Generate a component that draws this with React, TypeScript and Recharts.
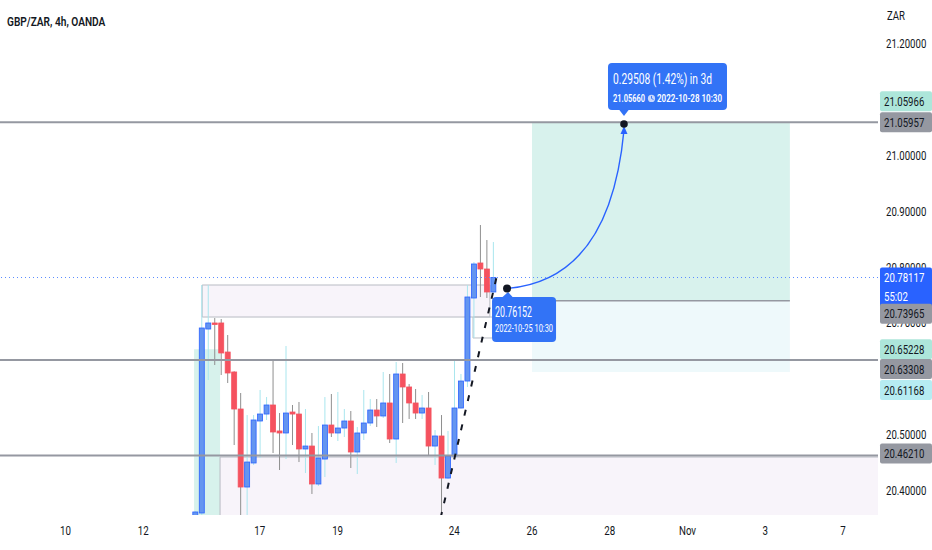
import React from 'react';
import { ComposedChart, Bar, XAxis, YAxis, ReferenceLine, ReferenceArea, ReferenceDot } from 'recharts';

// GBP/ZAR 4h candles, 13 Oct – 25 Oct 2022
const opens = [
  20.34, 20.3588, 20.6888, 20.6996, 20.6996, 20.6475, 20.6117, 20.5453, 20.4054, 20.4485,
  20.5238, 20.5363, 20.5525, 20.5059, 20.5023, 20.5399, 20.5363, 20.4736, 20.4789, 20.4108,
  20.4556, 20.5166, 20.5023, 20.5112, 20.5238, 20.4682, 20.5023, 20.5202, 20.5435, 20.5328,
  20.5561, 20.4915, 20.6081, 20.5848, 20.5561, 20.5381, 20.5471, 20.4789, 20.4969, 20.4215,
  20.461, 20.5471, 20.5955, 20.7444, 20.8072, 20.7964, 20.7552,
];
const highs = [
  20.362, 20.7677, 20.7677, 20.7085, 20.7067, 20.678, 20.613, 20.574, 20.5345, 20.5345,
  20.5794, 20.5668, 20.6332, 20.5381, 20.6583, 20.5525, 20.5579, 20.5453, 20.5023, 20.5148,
  20.5668, 20.5722, 20.5758, 20.5453, 20.5417, 20.513, 20.5794, 20.5632, 20.5632, 20.6117,
  20.6081, 20.6296, 20.6278, 20.5901, 20.5812, 20.5704, 20.5758, 20.5076, 20.5345, 20.5059,
  20.6332, 20.6081, 20.7677, 20.809, 20.8753, 20.8484, 20.8448,
];
const lows = [
  20.33, 20.35, 20.5973, 20.6242, 20.6063, 20.5919, 20.4807, 20.35, 20.35, 20.4449,
  20.4574, 20.5256, 20.4664, 20.4359, 20.4556, 20.4807, 20.4502, 20.4305, 20.3929, 20.4072,
  20.4233, 20.4951, 20.4879, 20.4951, 20.4395, 20.4287, 20.4897, 20.5148, 20.513, 20.5292,
  20.4843, 20.4485, 20.5202, 20.5274, 20.5274, 20.5274, 20.4628, 20.4449, 20.35, 20.42,
  20.46, 20.546, 20.5848, 20.6727, 20.7462, 20.7444, 20.753,
];
const closes = [
  20.3606, 20.6906, 20.6996, 20.6978, 20.6458, 20.6099, 20.5453, 20.4054, 20.4502, 20.5256,
  20.5363, 20.5525, 20.5041, 20.5023, 20.5381, 20.5363, 20.4736, 20.4789, 20.4108, 20.4574,
  20.5166, 20.5023, 20.5112, 20.5238, 20.4682, 20.5023, 20.5202, 20.5435, 20.5328, 20.5561,
  20.4915, 20.6081, 20.5848, 20.5561, 20.5381, 20.5471, 20.4789, 20.4969, 20.4215, 20.461,
  20.5471, 20.5955, 20.7462, 20.8054, 20.7964, 20.7552, 20.78117,
];

// x axis: 6 candle slots per trading day, label at day start
const daySlots = [-20, -8, 10, 22, 40, 52, 64, 76, 88, 100];
const dayLabels = ['10', '12', '17', '19', '24', '26', '28', 'Nov', '3', '7'];
// price ticks that are not hidden behind the axis tags
const priceTicks = [20.4, 20.5, 20.7, 20.8, 20.9, 21.0, 21.2];

// drawings
const levels = [21.05957, 20.63308, 20.4621];
const lastPrice = 20.78117;
const countdown = '55:02';
const entry = { slot: 48.15, price: 20.76152, time: '2022-10-25 10:30' };
const target = { slot: 66.2, price: 21.0566, time: '2022-10-28  10:30', days: 3 };
const longPos = { from: 52.0, to: 91.8, entry: 20.73965, take: 21.05966, stop: 20.61168 };
const smallLong = { from: -0.15, to: 3.86, top: 20.65228 };
const rangeBox = { from: 1.1, to: 45.5, top: 20.7677, bottom: 20.7103 };
const tinyBox = { from: 42.9, to: 47.1, top: 20.7103, bottom: 20.6727 };
const lowerBox = { from: 3.86, top: 20.4592 };
const trend = [{ x: 37.9, y: 20.35 }, { x: 46.7, y: 20.79 }];

const X_DOMAIN = [-30.1, 105.4];
const Y_DOMAIN = [20.3552, 21.2789];

const rows = opens.map((o, i) => ({
  i,
  open: o,
  high: highs[i],
  low: lows[i],
  close: closes[i],
  range: [lows[i], highs[i]],
}));

const FONT = 'Roboto, "Liberation Sans", sans-serif';
const BLUE = '#2962ff';
const GREY = '#9598a1';

// the screenshot's font is narrow, so squeeze text horizontally
const NText = ({ x, y, size = 12, sx = 0.8, fill = '#131722', weight = 400, anchor = 'start', children }: any) => (
  <text
    transform={`translate(${x},${y}) scale(${sx},1)`}
    fontSize={size}
    fontFamily={FONT}
    fontWeight={weight}
    fill={fill}
    textAnchor={anchor}
  >
    {children}
  </text>
);

const Candle = (props: any) => {
  const { x, y, width, height } = props;
  const d = props.payload ?? props;
  const up = d.close >= d.open;
  const ppu = height / (d.high - d.low);
  const yOf = (v: number) => y + (d.high - v) * ppu;
  const cx = x + width / 2;
  const top = yOf(Math.max(d.open, d.close));
  const bot = yOf(Math.min(d.open, d.close));
  return (
    <g>
      <line x1={cx} x2={cx} y1={y} y2={y + height} stroke={up ? '#a9e6ee' : '#8f8f8f'} strokeWidth={1} />
      <rect
        x={cx - 2.5}
        y={top}
        width={5}
        height={Math.max(bot - top, 1.5)}
        fill={up ? '#6495f0' : '#f5525f'}
        stroke={up ? BLUE : '#f5525f'}
        strokeWidth={0.8}
      />
    </g>
  );
};

const tags = [
  { price: longPos.take, shift: -21, bg: '#ade6da', fg: '#131722' },
  { price: levels[0], shift: 0, bg: GREY, fg: '#131722' },
  { price: lastPrice, shift: 0, bg: BLUE, fg: '#ffffff', sub: countdown },
  { price: longPos.entry, shift: 13, bg: GREY, fg: '#131722' },
  { price: smallLong.top, shift: 0, bg: '#ade6da', fg: '#131722' },
  { price: levels[1], shift: 9, bg: GREY, fg: '#131722' },
  { price: longPos.stop, shift: 18, bg: '#b6ecf2', fg: '#131722' },
  { price: levels[2], shift: -2, bg: GREY, fg: '#131722' },
];

const tagShape = (t: any) => (p: any) => {
  const right = Math.max(p.x1, p.x2);
  const cy = p.y1 + t.shift;
  return (
    <g>
      <rect x={right + 2} y={cy - 10} width={52} height={t.sub ? 40 : 20} rx={2} fill={t.bg} />
      <NText x={right + 6} y={cy + 4.5} fill={t.fg}>
        {t.price.toFixed(5)}
      </NText>
      {t.sub && (
        <NText x={right + 6} y={cy + 23.5} fill={t.fg}>
          {t.sub}
        </NText>
      )}
    </g>
  );
};

const arcShape = (p: any) => {
  const [a, b] = p.x1 <= p.x2 ? [{ x: p.x1, y: p.y1 }, { x: p.x2, y: p.y2 }] : [{ x: p.x2, y: p.y2 }, { x: p.x1, y: p.y1 }];
  const qx = a.x + (b.x - a.x) * 0.88;
  const qy = a.y - (a.y - b.y) * 0.05;
  return (
    <g>
      <path d={`M${a.x},${a.y} Q${qx},${qy} ${b.x},${b.y + 6}`} fill="none" stroke={BLUE} strokeWidth={1.4} />
      <path d={`M${b.x - 3.5},${b.y + 10} L${b.x},${b.y + 2} L${b.x + 3.5},${b.y + 10} Z`} fill={BLUE} />
    </g>
  );
};

const entryCallout = (p: any) => {
  const { cx, cy } = p;
  return (
    <g>
      <path d={`M${cx - 5},${cy + 9} L${cx + 1},${cy + 3.5} L${cx + 6},${cy + 9} Z`} fill="#3273f6" />
      <rect x={cx - 15} y={cy + 8.5} width={64} height={45} rx={4} fill="#3273f6" />
      <text x={cx - 12} y={cy + 29} fontSize={14} fontFamily={FONT} fill="#fff" textLength={37} lengthAdjust="spacingAndGlyphs">
        {entry.price.toFixed(5)}
      </text>
      <text x={cx - 12} y={cy + 44} fontSize={10.5} fontFamily={FONT} fill="#fff" textLength={58} lengthAdjust="spacingAndGlyphs">
        {entry.time}
      </text>
      <circle cx={cx} cy={cy} r={4} fill="#131722" />
    </g>
  );
};

const diff = target.price - entry.price;
const pct = (diff / entry.price) * 100;

const targetCallout = (p: any) => {
  const { cx, cy } = p;
  return (
    <g>
      <rect x={cx - 16} y={cy - 61} width={119} height={47} rx={4} fill="#3273f6" />
      <path d={`M${cx - 5},${cy - 14.5} L${cx},${cy - 8} L${cx + 5},${cy - 14.5} Z`} fill="#3273f6" />
      <text x={cx - 11} y={cy - 40} fontSize={14} fontFamily={FONT} fill="#fff" textLength={99} lengthAdjust="spacingAndGlyphs">
        {`${diff.toFixed(5)} (${pct.toFixed(2)}%) in ${target.days}d`}
      </text>
      <text x={cx - 11} y={cy - 22} fontSize={10.5} fontFamily={FONT} fontWeight={600} fill="#fff" textLength={32} lengthAdjust="spacingAndGlyphs">
        {target.price.toFixed(5)}
      </text>
      <circle cx={cx + 27.5} cy={cy - 25.5} r={3.6} fill="#c9d8fb" />
      <path d={`M${cx + 27.5},${cy - 28} L${cx + 27.5},${cy - 25.5} L${cx + 29.5},${cy - 24.5}`} stroke="#3273f6" strokeWidth={0.9} fill="none" />
      <text x={cx + 33} y={cy - 22} fontSize={10.5} fontFamily={FONT} fontWeight={600} fill="#fff" textLength={65} lengthAdjust="spacingAndGlyphs">
        {target.time}
      </text>
      <circle cx={cx} cy={cy} r={3.8} fill="#131722" />
    </g>
  );
};

const PriceTick = (p: any) => (
  <NText x={p.x} y={p.y + 4.5}>
    {Number(p.payload.value).toFixed(5)}
  </NText>
);

const DayTick = (p: any) => {
  const label = dayLabels[daySlots.indexOf(p.payload.value)] ?? '';
  return (
    <NText x={p.x} y={p.y + 12} size={12.5} sx={0.78} anchor="middle">
      {label}
    </NText>
  );
};

export default function App() {
  return (
    <div style={{ position: 'absolute', left: 0, top: 0, width: 932, height: 550, background: '#fff' }}>
      <ComposedChart width={932} height={550} data={rows} margin={{ top: 0, right: 0, bottom: 0, left: 0 }}>
        <XAxis
          dataKey="i"
          type="number"
          domain={X_DOMAIN}
          allowDataOverflow
          ticks={daySlots}
          interval={0}
          axisLine={false}
          tickLine={false}
          height={35}
          tick={DayTick}
        />
        <YAxis
          orientation="right"
          type="number"
          domain={Y_DOMAIN}
          allowDataOverflow
          ticks={priceTicks}
          interval={0}
          axisLine={false}
          tickLine={false}
          width={54}
          tick={PriceTick}
        />

        <ReferenceArea
          x1={smallLong.from}
          x2={smallLong.to}
          y1={Y_DOMAIN[0] - 0.05}
          y2={smallLong.top}
          ifOverflow="hidden"
          fill="#c9eee5"
          fillOpacity={0.75}
          stroke="none"
        />
        <ReferenceArea x1={rangeBox.from} x2={rangeBox.to} y1={rangeBox.bottom} y2={rangeBox.top} fill="#f8f4fa" fillOpacity={1} stroke="#b8bbc3" strokeWidth={1} />
        <ReferenceArea x1={tinyBox.from} x2={tinyBox.to} y1={tinyBox.bottom} y2={tinyBox.top} fill="none" stroke="#b8bbc3" strokeWidth={1} />
        <ReferenceArea
          x1={lowerBox.from}
          x2={X_DOMAIN[1] + 1}
          y1={Y_DOMAIN[0] - 0.05}
          y2={lowerBox.top}
          ifOverflow="hidden"
          fill="#f8f4fa"
          fillOpacity={1}
          stroke="#b8bbc3"
          strokeWidth={1}
        />
        <ReferenceArea x1={longPos.from} x2={longPos.to} y1={longPos.entry} y2={longPos.take} fill="#d8f2ed" fillOpacity={1} stroke="none" />
        <ReferenceArea x1={longPos.from} x2={longPos.to} y1={longPos.stop} y2={longPos.entry} fill="#eef9fb" fillOpacity={1} stroke="none" />

        {levels.map((v) => (
          <ReferenceLine key={v} y={v} stroke={GREY} strokeWidth={2} />
        ))}
        <ReferenceLine y={lastPrice} stroke="#5b8cff" strokeDasharray="1 3" strokeWidth={1} />
        <ReferenceLine
          segment={[{ x: longPos.from, y: longPos.entry }, { x: longPos.to, y: longPos.entry }]}
          stroke={GREY}
          strokeWidth={1.5}
        />

        <Bar dataKey="range" barSize={5} shape={Candle} isAnimationActive={false} />

        <ReferenceLine segment={trend} ifOverflow="hidden" stroke="#131722" strokeWidth={2} strokeDasharray="6 9" />
        <ReferenceLine
          segment={[{ x: entry.slot, y: entry.price }, { x: target.slot, y: target.price }]}
          shape={arcShape}
        />
        <ReferenceDot x={entry.slot} y={entry.price} r={4} shape={entryCallout} />
        <ReferenceDot x={target.slot} y={target.price} r={4} shape={targetCallout} />

        {tags.map((t) => (
          <ReferenceLine key={t.price} y={t.price} stroke="none" zIndex={2500} shape={tagShape(t)} />
        ))}
      </ComposedChart>
      <svg width={932} height={550} style={{ position: 'absolute', left: 0, top: 0, pointerEvents: 'none' }}>
        <NText x={7} y={26} size={13} sx={0.78} weight={600}>
          GBP/ZAR, 4h, OANDA
        </NText>
        <NText x={887} y={20}>
          ZAR
        </NText>
      </svg>
    </div>
  );
}
